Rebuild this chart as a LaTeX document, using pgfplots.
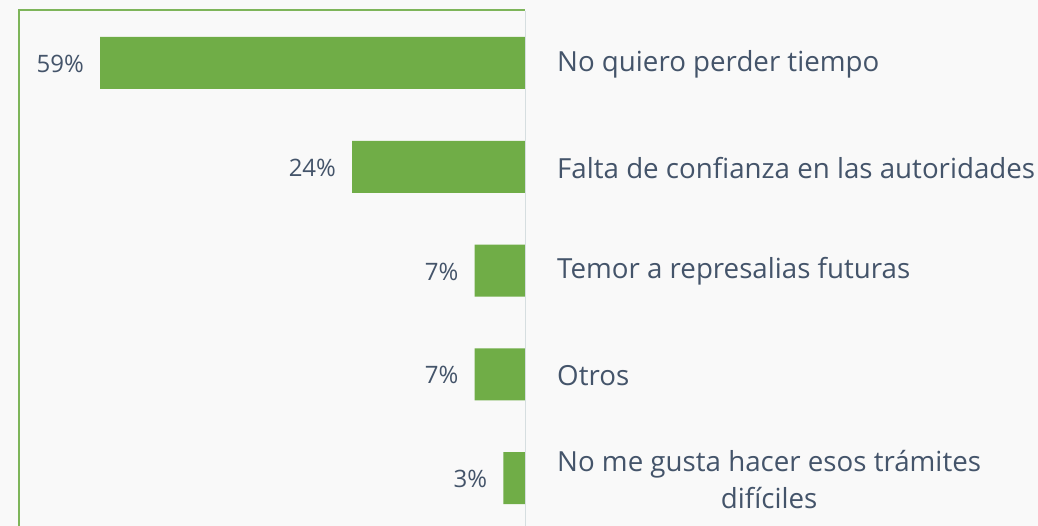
\documentclass[border=0pt]{standalone}
\usepackage{pgfplots}
\pgfplotsset{compat=1.18}
\usepackage{fontspec}
\setmainfont{Open Sans}
\definecolor{bargreen}{HTML}{70AD47}
\definecolor{txt}{HTML}{44546A}
\definecolor{bg}{HTML}{F9F9F9}
\definecolor{axisc}{HTML}{D6DEE0}
\begin{document}
\begin{tikzpicture}[x=1pt,y=1pt]
\fill[bg] (0,0) rectangle (1038,526);
\useasboundingbox (0,0) rectangle (1038,526);
\begin{axis}[
  at={(18pt,0pt)}, anchor=south west,
  width=507pt, height=516pt, scale only axis,
  xbar, bar width=52pt,
  xmin=0, xmax=70.4, x dir=reverse,
  ymin=-0.51, ymax=4.46, y dir=reverse,
  axis line style={draw=none},
  major tick length=0pt,
  xtick=\empty,
  ytick={0,1,2,3,4},
  yticklabels={No quiero perder tiempo, Falta de confianza en las autoridades, Temor a represalias futuras, Otros, {No me gusta hacer esos trámites\\difíciles}},
  yticklabel pos=right,
  yticklabel style={anchor=west, align=center, text=txt, inner sep=0pt, xshift=32pt, yshift=-1pt, font=\fontsize{27.7}{37}\selectfont},
  clip=false,
  /pgf/number format/assume math mode=true,
  nodes near coords={\pgfmathprintnumber{\pgfplotspointmeta}\%},
  every node near coord/.append style={text=txt, anchor=east, inner sep=0pt, xshift=-16pt, yshift=-1pt, font=\fontsize{24}{28}\selectfont},
]
\addplot[fill=bargreen, draw=none] coordinates {(59,0) (24,1) (7,2) (7,3) (3,4)};
\end{axis}
\draw[bargreen!90!white, line width=2pt] (18.5,0) -- (18.5,515.5) -- (525,515.5);
\draw[axisc, line width=1.5pt] (525.5,0) -- (525.5,515);
\end{tikzpicture}
\end{document}
